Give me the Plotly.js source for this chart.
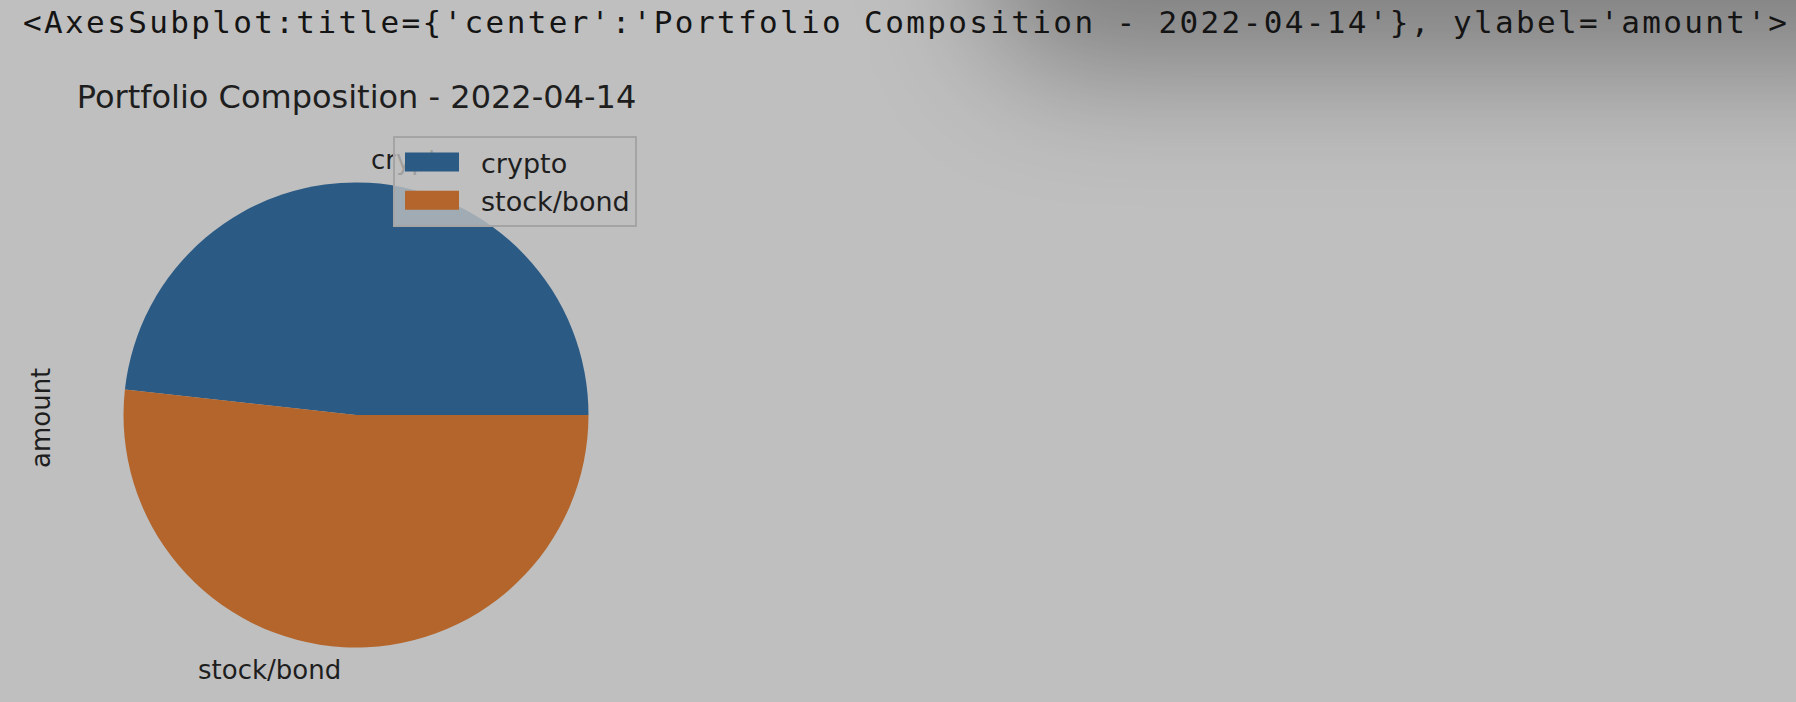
<!DOCTYPE html>
<html>
<head>
<meta charset="utf-8">
<script src="https://cdn.plot.ly/plotly-3.0.1.min.js"></script>
<style>
html, body { margin:0; padding:0; width:1796px; height:702px; overflow:hidden; background:#bfbfbf; }
#shadow { position:absolute; left:990px; top:-230px; width:1000px; height:300px; background:rgba(0,0,0,0.33); filter:blur(62px); border-radius:80px; }
#chart { position:absolute; left:0; top:0; width:1796px; height:702px; }
</style>
</head>
<body>
<div id="shadow"></div>
<div id="chart"></div>
<script>
// ---- data ----
const categories = ['crypto', 'stock/bond'];
const amounts = [40200, 43120];
const sliceColors = ['#2b5a84', '#b3652b'];
const chartTitle = 'Portfolio Composition - 2022-04-14';
const yLabel = 'amount';
const reprLine = "&lt;AxesSubplot:title={'center':'Portfolio Composition - 2022-04-14'}, ylabel='amount'&gt;";

// ---- layout geometry (px) ----
const W = 1796, H = 702;
const cx = 356, cy = 415, R = 232.5;
const textColor = '#1e1e1e';

const total = amounts.reduce((a, b) => a + b, 0);
// matplotlib: startangle 0 (3 o'clock), counterclockwise
const rotation = 90 - 360 * amounts[0] / total;

// outside labels at 1.1 * radius, like matplotlib
const labelAnns = [];
let acc = 0;
for (let i = 0; i < amounts.length; i++) {
  const frac = amounts[i] / total;
  const mid = (acc + frac / 2) * 2 * Math.PI;
  acc += frac;
  const xp = cx + 1.1 * R * Math.cos(mid);
  const yp = cy - 1.1 * R * Math.sin(mid);
  labelAnns.push({
    text: categories[i], xref: 'paper', yref: 'paper',
    x: xp / W, y: 1 - yp / H,
    xanchor: Math.cos(mid) < 0 ? 'right' : 'left', yanchor: 'middle',
    showarrow: false, borderpad: 0,
    font: { family: 'DejaVu Sans', size: 26, color: textColor }
  });
}

const trace = {
  type: 'pie',
  labels: categories,
  values: amounts,
  sort: false,
  direction: 'counterclockwise',
  rotation: rotation,
  marker: { colors: sliceColors, line: { width: 0 } },
  textinfo: 'none',
  hoverinfo: 'label+value',
  domain: { x: [(cx - R) / W, (cx + R) / W], y: [1 - (cy + R) / H, 1 - (cy - R) / H] },
  showlegend: true
};

const layout = {
  width: W, height: H,
  margin: { l: 0, r: 0, t: 0, b: 0 },
  paper_bgcolor: 'rgba(0,0,0,0)',
  plot_bgcolor: 'rgba(0,0,0,0)',
  title: {
    text: chartTitle,
    xref: 'paper', yref: 'container',
    x: 356.5 / W, xanchor: 'center',
    y: 1 - 96.8 / H, yanchor: 'middle',
    font: { family: 'DejaVu Sans', size: 32, color: textColor }
  },
  legend: {
    x: 393 / W, xanchor: 'left',
    y: 1 - 136 / H, yanchor: 'top',
    bgcolor: 'rgba(191,191,191,0.8)',
    bordercolor: '#a4a4a4', borderwidth: 2,
    itemwidth: 76,
    font: { family: 'DejaVu Sans', size: 27, color: textColor },
    traceorder: 'normal'
  },
  annotations: [
    {
      text: reprLine, xref: 'paper', yref: 'paper',
      x: 23 / W, y: 1 - 22 / H, xanchor: 'left', yanchor: 'middle',
      showarrow: false, borderpad: 0,
      font: { family: 'DejaVu Sans Mono', size: 31, color: '#141414' }
    },
    {
      text: yLabel, xref: 'paper', yref: 'paper',
      x: 41 / W, y: 1 - 418 / H, xanchor: 'center', yanchor: 'middle',
      textangle: -90, showarrow: false, borderpad: 0,
      font: { family: 'DejaVu Sans', size: 26, color: textColor }
    }
  ].concat(labelAnns)
};

Plotly.newPlot('chart', [trace], layout, { displayModeBar: false, staticPlot: true }).then(gd => {
  // legend drawn above the pie labels (as in matplotlib)
  const leg = gd.querySelector('g.legend');
  if (leg && leg.parentNode) leg.parentNode.appendChild(leg);
  // wide legend swatches
  gd.querySelectorAll('g.legendpoints path').forEach(p => p.setAttribute('d', 'M21,9.5H-33V-9.5H21Z'));
  // stretch the monospace repr line to the reference width, left edge at 23px
  gd.querySelectorAll('text.annotation-text').forEach(t => {
    if (t.textContent.indexOf('AxesSubplot') >= 0) {
      t.setAttribute('textLength', '1764');
      t.setAttribute('lengthAdjust', 'spacing');
      const left = t.getBoundingClientRect().left - gd.getBoundingClientRect().left;
      const prev = t.getAttribute('transform') || '';
      t.setAttribute('transform', 'translate(' + (23 - left) + ',0) ' + prev);
    }
  });
});
</script>
</body>
</html>
